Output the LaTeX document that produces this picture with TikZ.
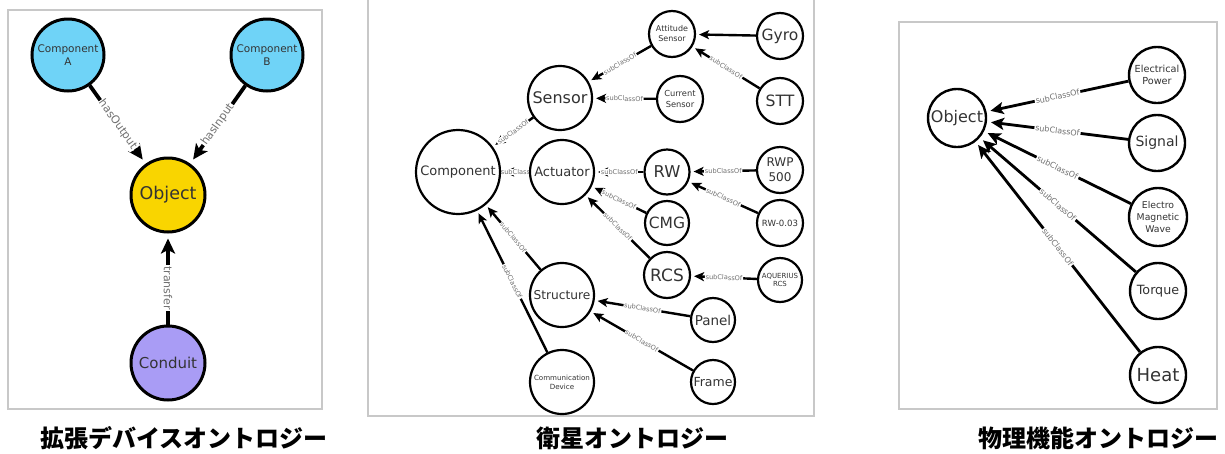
\documentclass[tikz,border=0pt]{standalone}
\usepackage{fontspec}
\setmainfont{DejaVu Sans}
\newfontfamily\cjk{Noto Sans CJK JP}
\usetikzlibrary{arrows.meta}
\pgfdeclarelayer{bglayer}
\pgfdeclarelayer{edgelayer}
\pgfsetlayers{bglayer,edgelayer,main}
\newcommand\fsz[1]{\fontsize{#1}{\fpeval{#1*1.25}}\selectfont}
\definecolor{txt}{HTML}{333333}
\definecolor{labc}{HTML}{707070}
\definecolor{framec}{HTML}{C8C8C8}
\definecolor{cyanfill}{HTML}{6FD3F7}
\definecolor{goldfill}{HTML}{F9D500}
\definecolor{lavfill}{HTML}{A99CF5}
\tikzset{
  panelbox/.style={draw=framec, line width=1.5pt},
  caption/.style={font=\cjk\bfseries\fontsize{24}{24}\selectfont, text=black, inner sep=0pt},
  lnode/.style={circle, draw=black, line width=3pt, inner sep=0pt, align=center, text=txt},
  mnode/.style={circle, draw=black, line width=2.2pt, fill=white, inner sep=0pt, align=center, text=txt},
  rnode/.style={circle, draw=black, line width=2.4pt, fill=white, inner sep=0pt, align=center, text=txt},
  ledge/.style={line width=3.8pt, -{Stealth[length=15pt,width=14pt,inset=3.5pt]}, shorten >=5pt},
  medge/.style={line width=2.4pt, -{Stealth[length=10pt,width=9pt,inset=2.5pt]}, shorten >=3pt},
  redge/.style={line width=2.8pt, -{Stealth[length=13pt,width=12pt,inset=3pt]}, shorten >=4pt},
  llab/.style={sloped, fill=white, inner sep=1pt, text=labc, font=\fsz{11}},
  mlab/.style={sloped, fill=white, inner sep=0.8pt, text=labc, font=\fsz{6.6}},
  rlab/.style={sloped, fill=white, inner sep=1pt, text=labc, font=\fsz{8}},
}
\begin{document}
\begin{tikzpicture}[x=1pt,y=-1pt]
\useasboundingbox (0,0) rectangle (1225,453);
\begin{pgfonlayer}{bglayer}
  \fill[white] (0,0) rectangle (1225,453);
  % panel frames
  \draw[panelbox] (8,10) rectangle (322,409);
  \draw[panelbox] (368,0) -- (368,416) -- (814,416) -- (814,0);
  \draw[panelbox] (899,22) rectangle (1217,409);
\end{pgfonlayer}

% ---------- extended device ontology ----------
\node[lnode, fill=cyanfill, minimum size=72pt, font=\fsz{10.5}] (compA) at (68,55) {Component\\A};
\node[lnode, fill=cyanfill, minimum size=72pt, font=\fsz{10.5}] (compB) at (267,55) {Component\\B};
\node[lnode, fill=goldfill, minimum size=74pt, font=\fsz{17.5}] (obj) at (168,195) {Object};
\node[lnode, fill=lavfill, minimum size=74pt, font=\fsz{15}] (cond) at (168,363) {Conduit};

% ---------- satellite ontology ----------
\node[mnode, minimum size=84pt, font=\fsz{13}] (comp) at (458,172) {Component};
\node[mnode, minimum size=64pt, font=\fsz{16}] (sensor) at (560,98) {Sensor};
\node[mnode, minimum size=64pt, font=\fsz{13}] (act) at (562,172) {Actuator};
\node[mnode, minimum size=64pt, font=\fsz{12.2}] (struct) at (562,295) {Structure};
\node[mnode, minimum size=64pt, font=\fsz{7.1}] (comdev) at (562,382) {Communication\\Device};
\node[mnode, minimum size=46pt, font=\fsz{8}] (att) at (672,34) {Attitude\\Sensor};
\node[mnode, minimum size=46pt, font=\fsz{15.5}] (gyro) at (780,36) {Gyro};
\node[mnode, minimum size=46pt, font=\fsz{8.3}] (cur) at (680,99) {Current\\Sensor};
\node[mnode, minimum size=46pt, font=\fsz{15.6}] (stt) at (780,101) {STT};
\node[mnode, minimum size=45pt, font=\fsz{16.3}] (rw) at (667,172) {RW};
\node[mnode, minimum size=46pt, font=\fsz{12}] (rwp) at (780,170) {RWP\\500};
\node[mnode, minimum size=44pt, font=\fsz{15.5}] (cmg) at (667,223) {CMG};
\node[mnode, minimum size=46pt, font=\fsz{8.6}] (rw3) at (780,223) {RW-0.03};
\node[mnode, minimum size=46pt, font=\fsz{17}] (rcs) at (667,275) {RCS};
\node[mnode, minimum size=44pt, font=\fsz{7}] (aq) at (780,280) {AQUERIUS\\RCS};
\node[mnode, minimum size=44pt, font=\fsz{13.5}] (panel) at (713,320) {Panel};
\node[mnode, minimum size=44pt, font=\fsz{12.5}] (frame) at (713,382) {Frame};

% ---------- physical function ontology ----------
\node[rnode, minimum size=58pt, font=\fsz{16}] (robj) at (957,118) {Object};
\node[rnode, minimum size=56pt, font=\fsz{9.7}] (ep) at (1157,75) {Electrical\\Power};
\node[rnode, minimum size=56pt, font=\fsz{14}] (sig) at (1157,143) {Signal};
\node[rnode, minimum size=58pt, font=\fsz{9.3}] (emw) at (1158,217) {Electro\\Magnetic\\Wave};
\node[rnode, minimum size=56pt, font=\fsz{12.7}] (torque) at (1158,291) {Torque};
\node[rnode, minimum size=56pt, font=\fsz{18}] (heat) at (1158,375) {Heat};

% ---------- connectors ----------
\begin{pgfonlayer}{edgelayer}
  \draw[ledge] (compA) -- node[llab] {hasOutput} (obj);
  \draw[ledge] (compB) -- node[llab] {hasInput} (obj);
  \draw[ledge] (cond) -- node[llab, sloped=false, rotate=-90, pos=0.4] {transfer} (obj);

  \draw[medge] (sensor) -- node[mlab] {subClassOf} (comp);
  \draw[medge] (act) -- node[mlab, pos=0.35] {subClassOf} (comp);
  \draw[medge] (struct) -- node[mlab] {subClassOf} (comp);
  \draw[medge] (comdev) -- node[mlab] {subClassOf} (comp);
  \draw[medge] (att) -- node[mlab] {subClassOf} (sensor);
  \draw[medge] (cur) -- node[mlab] {subClassOf} (sensor);
  \draw[medge] (gyro) -- (att);
  \draw[medge] (stt) -- node[mlab] {subClassOf} (att);
  \draw[medge] (rw) -- node[mlab] {subClassOf} (act);
  \draw[medge] (cmg) -- node[mlab] {subClassOf} (act);
  \draw[medge] (rcs) -- node[mlab] {subClassOf} (act);
  \draw[medge] (rwp) -- node[mlab] {subClassOf} (rw);
  \draw[medge] (rw3) -- node[mlab] {subClassOf} (rw);
  \draw[medge] (aq) -- node[mlab] {subClassOf} (rcs);
  \draw[medge] (panel) -- node[mlab] {subClassOf} (struct);
  \draw[medge] (frame) -- node[mlab] {subClassOf} (struct);

  \draw[redge] (ep) -- node[rlab] {subClassOf} (robj);
  \draw[redge] (sig) -- node[rlab] {subClassOf} (robj);
  \draw[redge] (emw) -- node[rlab] {subClassOf} (robj);
  \draw[redge] (torque) -- node[rlab] {subClassOf} (robj);
  \draw[redge] (heat) -- node[rlab] {subClassOf} (robj);
\end{pgfonlayer}

% ---------- captions ----------
\node[caption] (cap1) at (184,438) {拡張デバイスオントロジー};
\node[caption] (cap2) at (632,438) {衛星オントロジー};
\node[caption] (cap3) at (1098,438) {物理機能オントロジー};
\end{tikzpicture}
\end{document}
